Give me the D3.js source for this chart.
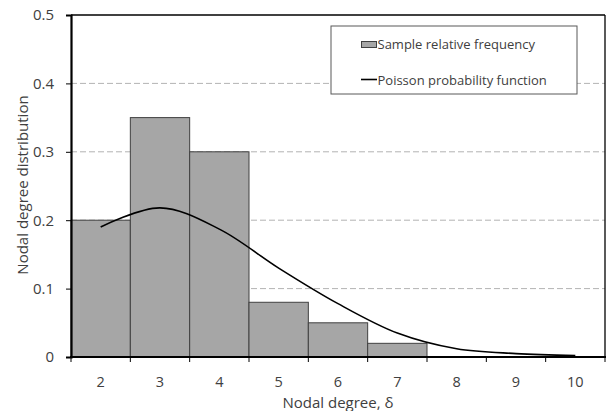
<!DOCTYPE html>
<html><head><meta charset="utf-8">
<script src="https://cdn.jsdelivr.net/npm/d3@7"></script>
<style>body{margin:0;background:#fff}svg{display:block}text{font-family:"Open Sans",sans-serif;fill:#404040}</style>
</head><body><svg id="c" width="607" height="411"></svg>
<script>
const categories = [2,3,4,5,6,7,8,9,10];
const sampleFreq = [0.20,0.35,0.30,0.08,0.05,0.02,0,0,0];
const poisson = [0.19,0.218,0.187,0.13,0.078,0.035,0.012,0.005,0.002];
const yTicks = [0,0.1,0.2,0.3,0.4,0.5];
const yTickLabels = ["0","0.1","0.2","0.3","0.4","0.5"];
const legendLabels = ["Sample relative frequency","Poisson probability function"];
const xTitle = "Nodal degree, δ";
const yTitle = "Nodal degree distribution";

const svg = d3.select("#c");
const L=71,R=605,T=15,B=357;
const x = d3.scaleBand().domain(categories).range([L,R]).padding(0);
const y = d3.scaleLinear().domain([0,0.5]).range([B,T]);

// gridlines
svg.append("g").selectAll("line").data(yTicks.filter(d=>d>0&&d<0.5)).join("line")
  .attr("x1",L).attr("x2",R).attr("y1",d=>y(d)).attr("y2",d=>y(d))
  .attr("stroke","#b3b3b3").attr("stroke-width",1).attr("stroke-dasharray","6,3");

// bars
svg.append("g").selectAll("rect").data(categories.map((c,i)=>({c,v:sampleFreq[i]})).filter(d=>d.v>0)).join("rect")
  .attr("x",d=>x(d.c)).attr("width",x.bandwidth()).attr("y",d=>y(d.v)).attr("height",d=>B-y(d.v))
  .attr("fill","#a6a6a6").attr("stroke","#404040").attr("stroke-width",1);

// poisson line
const line = d3.line().x((d,i)=>x(categories[i])+x.bandwidth()/2).y(d=>y(d)).curve(d3.curveCatmullRom.alpha(0.5));
svg.append("path").attr("d",line(poisson)).attr("fill","none").attr("stroke","#000").attr("stroke-width",1.6);

// border top/right
svg.append("line").attr("x1",L).attr("x2",R).attr("y1",T).attr("y2",T).attr("stroke","#000").attr("stroke-width",1.3);
svg.append("line").attr("x1",R).attr("x2",R).attr("y1",T).attr("y2",B).attr("stroke","#000").attr("stroke-width",1.3);

// y axis
const yAxis = d3.axisLeft(y).tickValues(yTicks).tickFormat((d,i)=>yTickLabels[i]).tickSize(5).tickPadding(12);
const gy = svg.append("g").attr("transform",`translate(${L},0)`).call(yAxis);
gy.select(".domain").attr("stroke","#000").attr("stroke-width",2.2);
gy.selectAll(".tick line").attr("stroke","#000").attr("stroke-width",1);
gy.selectAll(".tick text").style("font-size","15px").style("font-family","'Open Sans',sans-serif").attr("fill","#404040");

// x axis: ticks at band boundaries
const bounds = categories.map(c=>x(c)).concat([R]);
const gx = svg.append("g");
gx.selectAll("line.t").data(bounds).join("line").attr("class","t")
  .attr("x1",d=>d).attr("x2",d=>d).attr("y1",B).attr("y2",B+5).attr("stroke","#000").attr("stroke-width",1);
gx.append("line").attr("x1",L-1).attr("x2",R+1).attr("y1",B).attr("y2",B).attr("stroke","#000").attr("stroke-width",2.2);
gx.selectAll("text").data(categories).join("text")
  .attr("x",d=>x(d)+x.bandwidth()/2).attr("y",387).attr("text-anchor","middle")
  .style("font-size","14.5px").text(d=>d);

// titles
svg.append("text").attr("x",(L+R)/2).attr("y",407.5).attr("text-anchor","middle").style("font-size","15px").text(xTitle);
svg.append("text").attr("transform",`translate(28,185) rotate(-90)`).attr("text-anchor","middle").style("font-size","15px").text(yTitle);

// legend
const lg = svg.append("g");
lg.append("rect").attr("x",331).attr("y",26).attr("width",246).attr("height",68).attr("fill","#fff").attr("stroke","#595959").attr("stroke-width",1);
lg.append("rect").attr("x",361.5).attr("y",41.5).attr("width",15).attr("height",6).attr("fill","#a6a6a6").attr("stroke","#404040").attr("stroke-width",1);
lg.append("line").attr("x1",361).attr("x2",377).attr("y1",79.5).attr("y2",79.5).attr("stroke","#000").attr("stroke-width",1.6);
lg.append("text").attr("x",377.5).attr("y",49).style("font-size","13px").text(legendLabels[0]);
lg.append("text").attr("x",377.5).attr("y",84.5).style("font-size","13px").text(legendLabels[1]);
</script></body></html>
